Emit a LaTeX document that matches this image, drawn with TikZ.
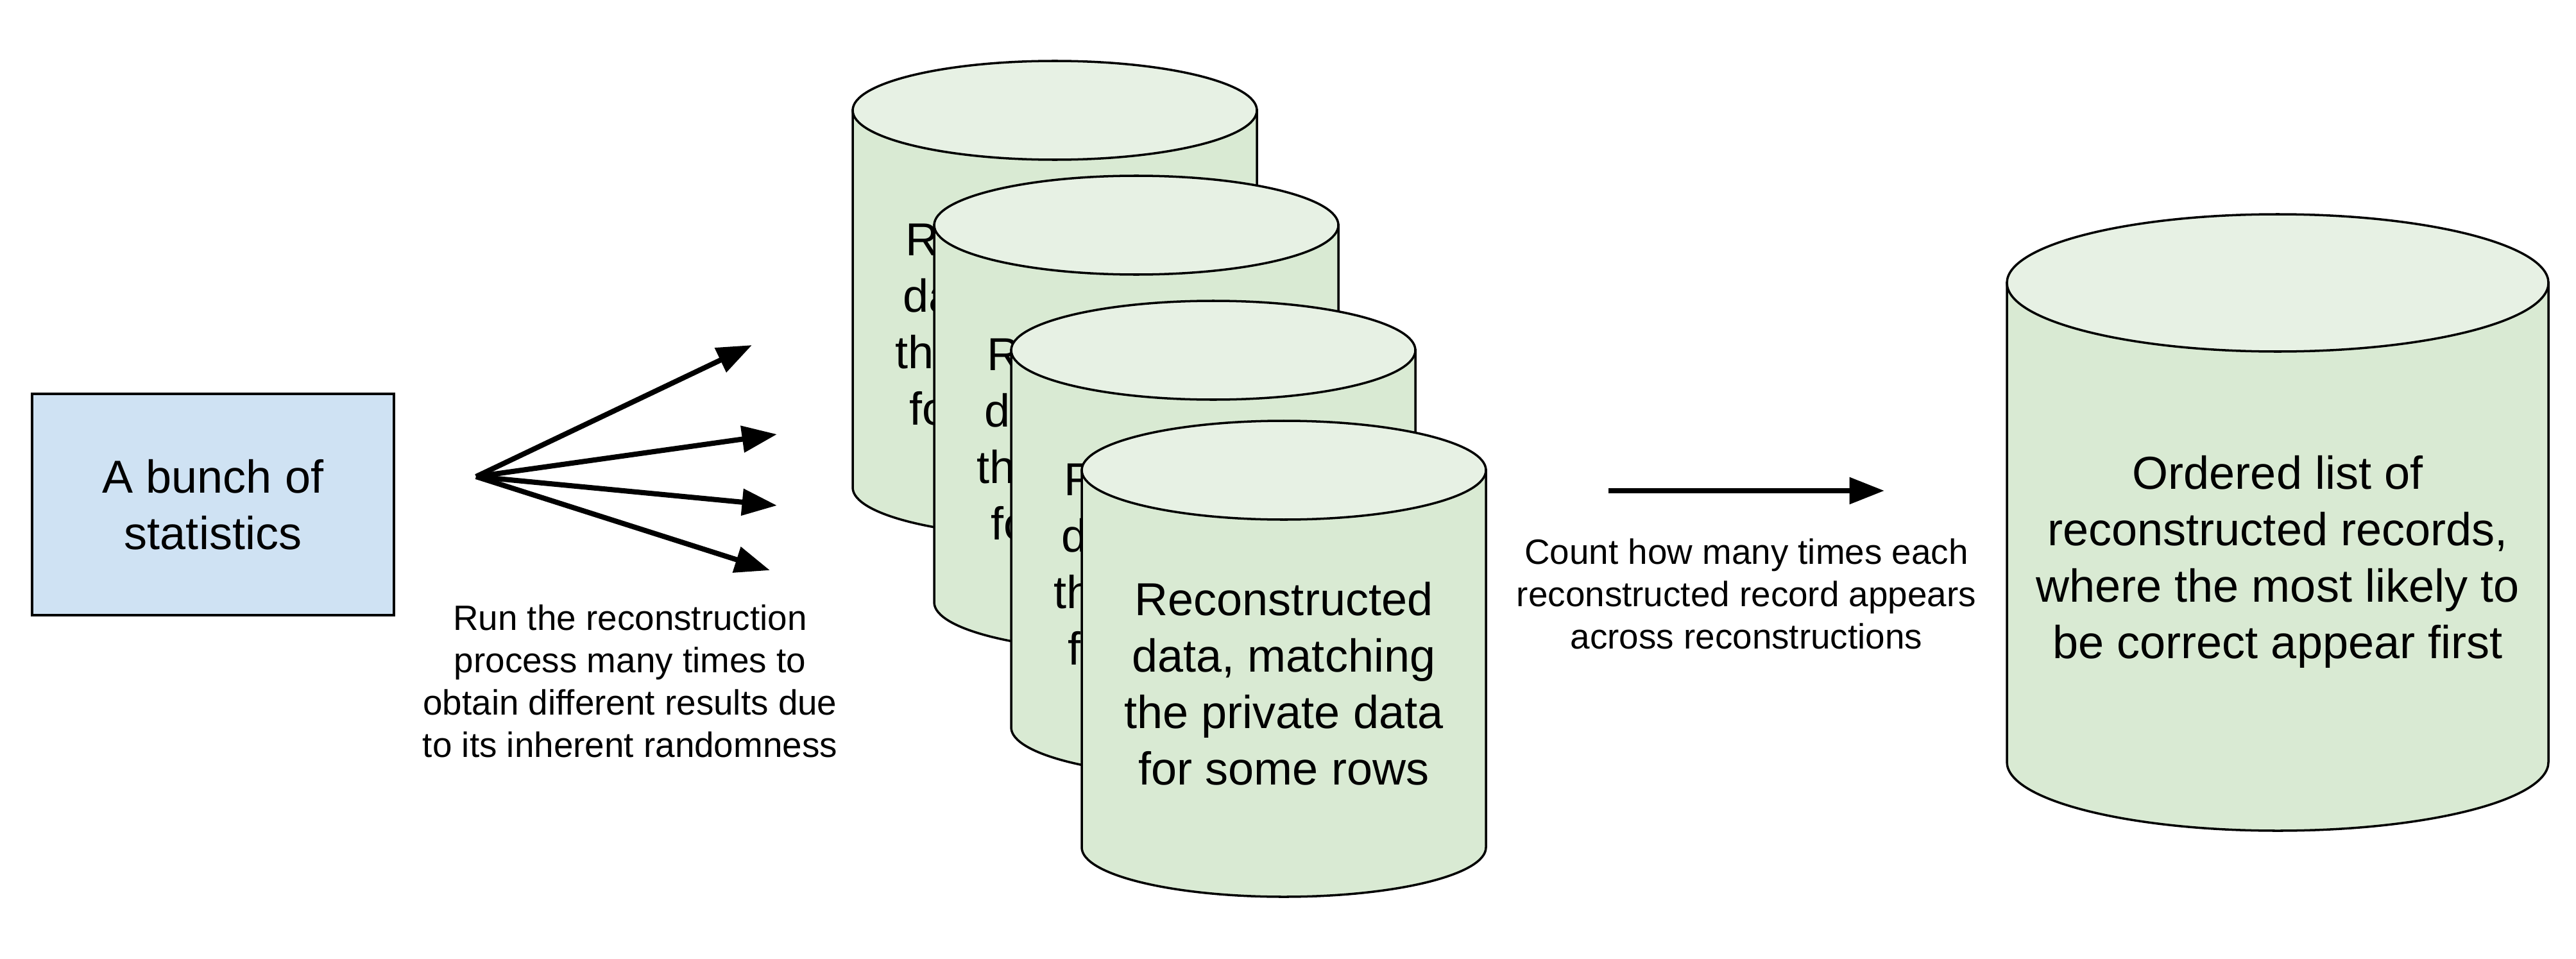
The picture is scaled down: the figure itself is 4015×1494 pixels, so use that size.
\documentclass[tikz,border=0pt]{standalone}
\usepackage{fontspec}
\setmainfont{Liberation Sans}
\usetikzlibrary{arrows.meta}
\definecolor{statblue}{HTML}{CFE2F3}
\definecolor{dbbody}{HTML}{D9EAD3}
\definecolor{dbtop}{HTML}{E7F1E4}
\tikzset{
  dbside/.style={fill=dbbody,draw=black,line width=1pt},
  dblid/.style={fill=dbtop,draw=black,line width=1pt},
  bigtext/.style={align=center,font=\fontsize{20.5}{25}\selectfont},
  smalltext/.style={align=center,font=\fontsize{15.6}{18.8}\selectfont},
  fanarrow/.style={-{Triangle[length=15.5pt,width=11.5pt]},line width=2.3pt}
}

\begin{document}
\begin{tikzpicture}[x=0.1mm,y=-0.1mm]
\useasboundingbox (0,0) rectangle (4015,1494);
\node [draw,fill=statblue,line width=1pt,minimum width=56.4mm,minimum height=34.5mm,bigtext] (stats) at (332,786.5) {A bunch of\\statistics};

\filldraw [dbside] (1329,172) -- (1329,760) arc [start angle=180,end angle=360,x radius=31.5mm,y radius=7.7mm] -- (1959,172) -- cycle;
\filldraw [dblid] (1644,172) ellipse [x radius=31.5mm,y radius=7.7mm];
\node [bigtext] (rec1) at (1644,505) {Reconstructed\\data, matching\\the private data\\for some rows};

\filldraw [dbside] (1456,351) -- (1456,939) arc [start angle=180,end angle=360,x radius=31.5mm,y radius=7.7mm] -- (2086,351) -- cycle;
\filldraw [dblid] (1771,351) ellipse [x radius=31.5mm,y radius=7.7mm];
\node [bigtext] (rec2) at (1771,684) {Reconstructed\\data, matching\\the private data\\for some rows};

\filldraw [dbside] (1576,546) -- (1576,1134) arc [start angle=180,end angle=360,x radius=31.5mm,y radius=7.7mm] -- (2206,546) -- cycle;
\filldraw [dblid] (1891,546) ellipse [x radius=31.5mm,y radius=7.7mm];
\node [bigtext] (rec3) at (1891,879) {Reconstructed\\data, matching\\the private data\\for some rows};

\filldraw [dbside] (1686,733) -- (1686,1321) arc [start angle=180,end angle=360,x radius=31.5mm,y radius=7.7mm] -- (2316,733) -- cycle;
\filldraw [dblid] (2001,733) ellipse [x radius=31.5mm,y radius=7.7mm];
\node [bigtext] (rec4) at (2001,1066) {Reconstructed\\data, matching\\the private data\\for some rows};

\filldraw [dbside] (3128,441) -- (3128,1188) arc [start angle=180,end angle=360,x radius=42.2mm,y radius=10.7mm] -- (3972,441) -- cycle;
\filldraw [dblid] (3550,441) ellipse [x radius=42.2mm,y radius=10.7mm];
\node [bigtext] (ordered) at (3550,876) {Ordered list of\\reconstructed records,\\where the most likely to\\be correct appear first};

\coordinate (fan) at (742,743);
\coordinate (f1) at (1172,538);
\coordinate (f2) at (1211,677);
\coordinate (f3) at (1211,788);
\coordinate (f4) at (1200,889);
\draw [fanarrow] (fan) -- (f1);
\draw [fanarrow] (fan) -- (f2);
\draw [fanarrow] (fan) -- (f3);
\draw [fanarrow] (fan) -- (f4);
\node [smalltext] (runlabel) at (982,1062) {Run the reconstruction\\process many times to\\obtain different results due\\to its inherent randomness};

\coordinate (c1) at (2507,765);
\coordinate (c2) at (2937,765);
\draw [fanarrow] (c1) -- (c2);
\node [smalltext] (countlabel) at (2722,926) {Count how many times each\\reconstructed record appears\\across reconstructions};

\end{tikzpicture}
\end{document}
